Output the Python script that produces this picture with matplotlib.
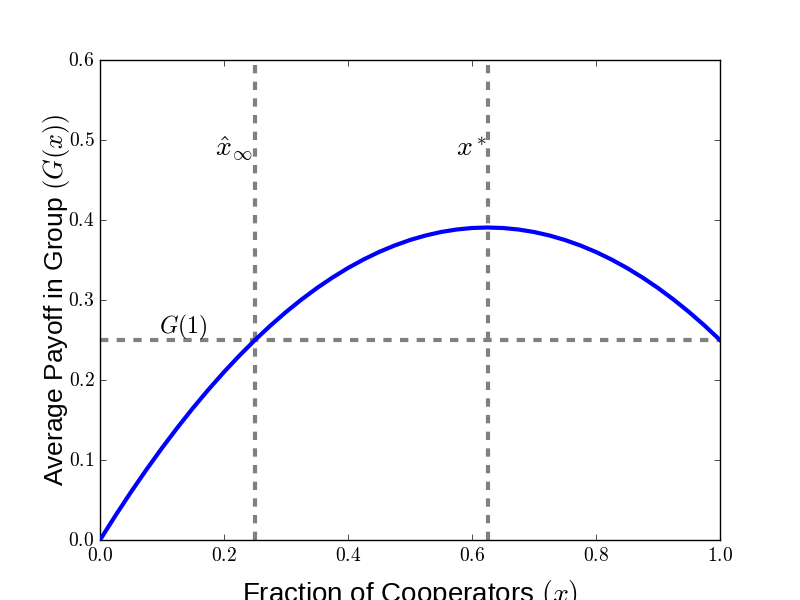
import matplotlib
matplotlib.use('Agg')
import matplotlib.pyplot as plt

plt.style.use('classic')
plt.rcParams['mathtext.fontset'] = 'cm'

# values
x = [0.0, 0.025, 0.05, 0.075, 0.1, 0.125, 0.15, 0.175, 0.2, 0.225, 0.25,
     0.275, 0.3, 0.325, 0.35, 0.375, 0.4, 0.425, 0.45, 0.475, 0.5,
     0.525, 0.55, 0.575, 0.6, 0.625, 0.65, 0.675, 0.7, 0.725, 0.75,
     0.775, 0.8, 0.825, 0.85, 0.875, 0.9, 0.925, 0.95, 0.975, 1.0]
G = [0.0, 0.0306, 0.0600, 0.0881, 0.1150, 0.1406, 0.1650, 0.1881, 0.2100, 0.2306, 0.2500,
     0.2681, 0.2850, 0.3006, 0.3150, 0.3281, 0.3400, 0.3506, 0.3600, 0.3681, 0.3750,
     0.3806, 0.3850, 0.3881, 0.3900, 0.3906, 0.3900, 0.3881, 0.3850, 0.3806, 0.3750,
     0.3681, 0.3600, 0.3506, 0.3400, 0.3281, 0.3150, 0.3006, 0.2850, 0.2681, 0.2500]
x_hat_inf = 0.25
x_star = 0.625
G1 = 0.25

xticks = [0.0, 0.2, 0.4, 0.6, 0.8, 1.0]
yticks = [0.0, 0.1, 0.2, 0.3, 0.4, 0.5, 0.6]

fig = plt.figure(figsize=(8, 6), dpi=100)
ax = fig.add_axes([0.125, 0.1, 0.775, 0.8])

ax.plot(x, G, color='blue', lw=3, zorder=3)
ax.axvline(x_hat_inf, color='gray', ls='--', lw=3, zorder=2)
ax.axvline(x_star, color='gray', ls='--', lw=3, zorder=2)
ax.axhline(G1, color='gray', ls='--', lw=3, zorder=2)

ax.text(0.185, 0.48, r'$\hat{x}_\infty$', fontsize=20)
ax.text(0.575, 0.48, r'$x^*$', fontsize=20)
ax.text(0.095, 0.258, r'$G(1)$', fontsize=17)

ax.set_xlim(0, 1)
ax.set_ylim(0, 0.6)
ax.set_xticks(xticks)
ax.set_yticks(yticks)
ax.set_xticklabels(['$%.1f$' % t for t in xticks], fontsize=14)
ax.set_yticklabels(['$%.1f$' % t for t in yticks], fontsize=14)

ax.set_xlabel('Fraction of Cooperators $(x)$', fontsize=20,
              family='Liberation Sans')
ax.set_ylabel('Average Payoff in Group $(G(x))$', fontsize=19,
              family='Liberation Sans')
ax.xaxis.set_label_coords(0.5, -0.08)
ax.yaxis.set_label_coords(-0.045, 0.5)

fig.savefig('out.png', dpi=100)
